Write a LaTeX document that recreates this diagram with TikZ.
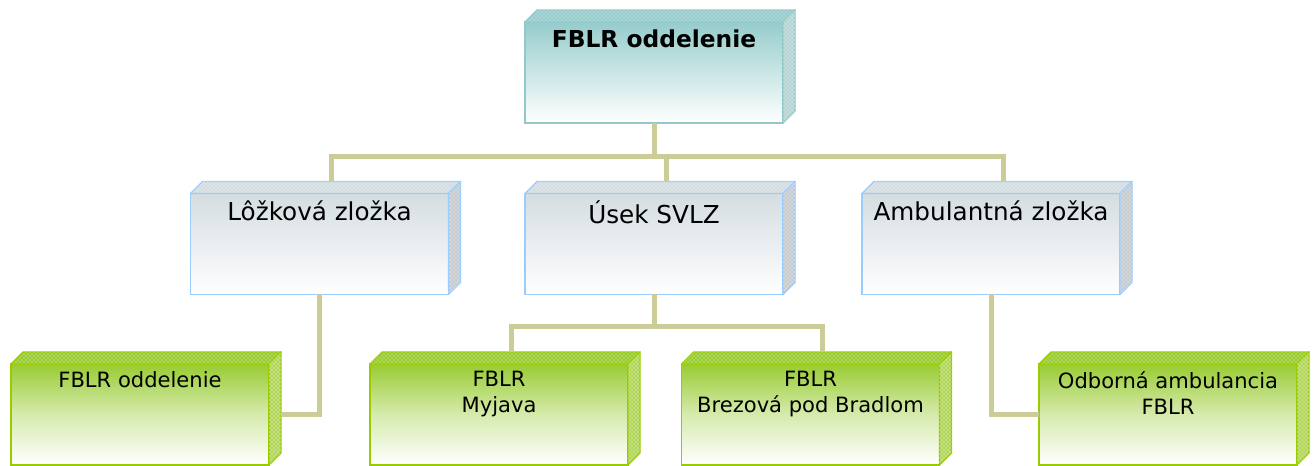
\documentclass[tikz,border=0pt]{standalone}
\usepackage{fontspec}
\setmainfont{DejaVu Sans}
\usetikzlibrary{calc,patterns}
\definecolor{linkcol}{RGB}{204,204,153}
\definecolor{tealedge}{RGB}{146,200,200}
\definecolor{tealtop}{RGB}{150,204,204}
\definecolor{tealside}{RGB}{180,212,212}
\definecolor{blueedge}{RGB}{153,204,255}
\definecolor{greytop}{RGB}{212,221,225}
\definecolor{greyside}{RGB}{198,203,206}
\definecolor{greenedge}{RGB}{153,204,0}
\definecolor{greentop}{RGB}{153,204,51}
\definecolor{greenside}{RGB}{178,214,90}

\begin{document}
\begin{tikzpicture}[x=0.75pt,y=-0.75pt,
		box/.style={rectangle, minimum width=193.5pt, minimum height=75.75pt, inner sep=0pt, outer sep=0pt, line width=1pt},
		headbox/.style={box, draw=tealedge, top color=tealtop, bottom color=white},
		midbox/.style={box, draw=blueedge, top color=greytop, bottom color=white},
		leafbox/.style={box, draw=greenedge, top color=greentop, bottom color=white, middle color=greentop!40},
		boxtext/.style={anchor=north, inner sep=0pt, yshift=-5.5pt, align=center},
		conn/.style={draw=linkcol, line width=3.75pt}]
	\useasboundingbox (0,0) rectangle (1316,466);

	\node[headbox, label={[boxtext, font=\bfseries\fontsize{17.5}{21}\selectfont]north:FBLR oddelenie}] (head) at (654,72.5) {};

	\node[midbox, label={[boxtext, font=\fontsize{18.5}{22}\selectfont]north:Lôžková zložka}] (lozko) at (319.5,244) {};
	\node[midbox, label={[boxtext, font=\fontsize{18.5}{22}\selectfont]north:Úsek SVLZ}] (usek) at (654,244) {};
	\node[midbox, label={[boxtext, font=\fontsize{18.5}{22}\selectfont]north:Ambulantná zložka}] (ambul) at (991,244) {};

	\node[leafbox, label={[boxtext, font=\fontsize{15.8}{19.5}\selectfont]north:FBLR oddelenie}] (oddel) at (140,414.5) {};
	\node[leafbox, label={[boxtext, font=\fontsize{15.8}{19.5}\selectfont]north:{FBLR\\Myjava}}] (myjava) at (499,414.5) {};
	\node[leafbox, label={[boxtext, font=\fontsize{15.8}{19.5}\selectfont]north:{FBLR\\Brezová pod Bradlom}}] (brezova) at (810.5,414.5) {};
	\node[leafbox, label={[boxtext, font=\fontsize{15.8}{19.5}\selectfont]north:{Odborná ambulancia\\FBLR}}] (odborna) at (1168,414.5) {};

	\foreach \n/\e/\t/\s in {head/tealedge/tealtop/tealside, lozko/blueedge/greytop/greyside, usek/blueedge/greytop/greyside, ambul/blueedge/greytop/greyside, oddel/greenedge/greentop/greenside, myjava/greenedge/greentop/greenside, brezova/greenedge/greentop/greenside, odborna/greenedge/greentop/greenside}{
		\filldraw[fill=\t, draw=\e, line width=1pt, line join=round, postaction={pattern=crosshatch dots, pattern color=white!80!\t}]
			(\n.north west) -- ++(12,-12) -- ($(\n.north east)+(12,-12)$) -- (\n.north east) -- cycle;
		\filldraw[fill=\s, draw=\e, line width=1pt, line join=round, postaction={pattern=crosshatch dots, pattern color=white}]
			(\n.north east) -- ++(12,-12) -- ($(\n.south east)+(12,-12)$) -- (\n.south east) -- cycle;
	}

	\coordinate (bus) at ($(head.south)+(0,34)$);
	\draw[conn] (head.south) -- (bus);
	\draw[conn] (bus) -| ($(lozko.north)+(12,-12)$);
	\draw[conn] (bus) -| ($(usek.north)+(12,-12)$);
	\draw[conn] (bus) -| ($(ambul.north)+(12,-12)$);

	\coordinate (subbus) at ($(usek.south)+(0,32)$);
	\draw[conn] (usek.south) -- (subbus);
	\draw[conn] (subbus) -| ($(myjava.north)+(12,-12)$);
	\draw[conn] (subbus) -| ($(brezova.north)+(12,-12)$);

	\draw[conn] (lozko.south) |- ($(oddel.east)+(12,0)$);
	\draw[conn] (ambul.south) |- (odborna.west);
\end{tikzpicture}
\end{document}
